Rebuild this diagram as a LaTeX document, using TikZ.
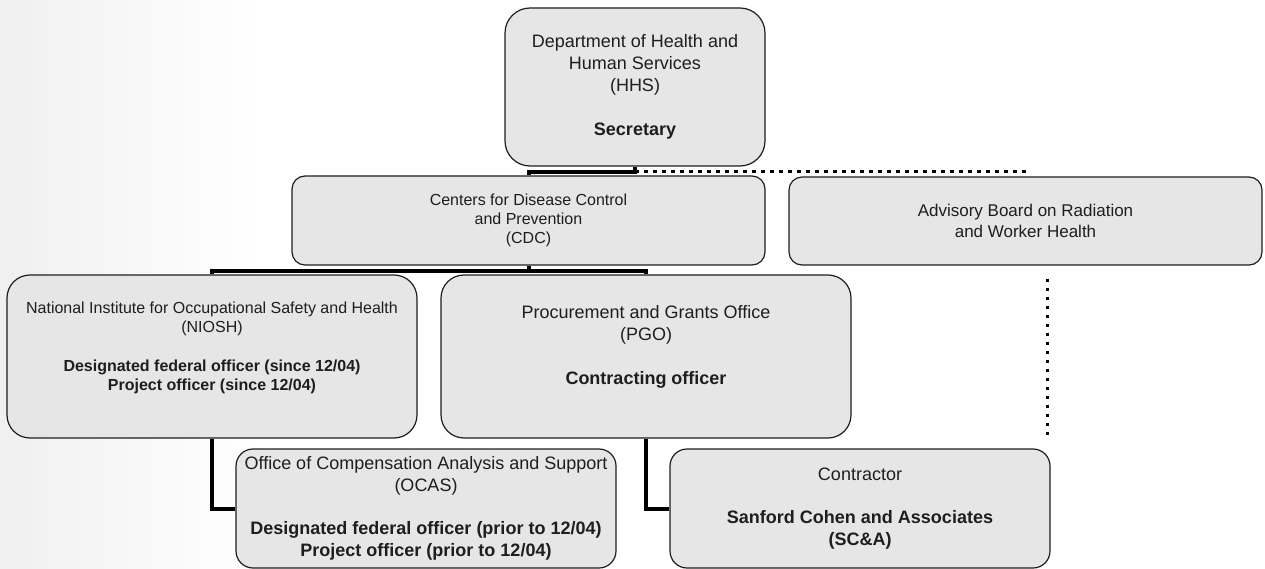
\documentclass[tikz,border=0pt]{standalone}
\usepackage{fontspec}
\setmainfont{Liberation Sans}
\definecolor{boxgray}{RGB}{230,230,230}
\definecolor{ink}{RGB}{30,30,30}
\begin{document}
\begin{tikzpicture}[x=1pt,y=-1pt,
    b/.style={draw=ink,line width=1.2pt,fill=boxgray,text=ink,align=center,
      inner sep=0pt,rounded corners=#1},
    b/.default=20pt,
    lg/.style={font=\fontsize{18}{21.8}\selectfont},
    md/.style={font=\fontsize{17}{20.7}\selectfont},
    sm/.style={font=\fontsize{16}{19.3}\selectfont},
    con/.style={line width=4pt,draw=black},
    dotl/.style={line width=3.5pt,draw=black,dash pattern=on 3.5pt off 5.5pt}]
  \useasboundingbox (0,0) rectangle (1265,569);
  \fill[left color=black!6,right color=white] (0,0) rectangle (260,569);
  \node[b=25pt,lg,minimum width=260,minimum height=158] (hhs) at (635,87)
    {Department of Health and\\Human Services\\(HHS)\\[22pt]\textbf{Secretary}};
  \node[b=13pt,sm,minimum width=473,minimum height=89] (cdc) at (528.5,220.5)
    {Centers for Disease Control\\and Prevention\\(CDC)};
  \node[b=13pt,md,minimum width=473,minimum height=88] (adv) at (1025.5,221)
    {Advisory Board on Radiation\\and Worker Health};
  \node[b=23pt,sm,minimum width=410,minimum height=163] (niosh) at (212,356.5)
    {National Institute for Occupational Safety and Health\\(NIOSH)\\[19.3pt]
     \textbf{Designated federal officer (since 12/04)}\\
     \textbf{Project officer (since 12/04)}\\[1pt]\mbox{}};
  \node[b=23pt,lg,minimum width=410,minimum height=163] (pgo) at (646,356.5)
    {Procurement and Grants Office\\(PGO)\\[21.8pt]
     \textbf{Contracting officer}\\[1pt]\mbox{}};
  \node[b=17pt,lg,minimum width=380,minimum height=119] (ocas) at (426,508.5)
    {Office of Compensation Analysis and Support\\(OCAS)\\[21.8pt]
     \textbf{Designated federal officer (prior to 12/04)}\\
     \textbf{Project officer (prior to 12/04)}};
  \node[b=17pt,lg,minimum width=380,minimum height=119] (ctr) at (860,508.5)
    {Contractor\\[21.8pt]\textbf{Sanford Cohen and Associates}\\\textbf{(SC\&A)}};
  \draw[con] (hhs.south) -- ++(0,5) -| (cdc.north);
  \draw[dotl] (hhs.south) ++(0,5) -| (adv.north);
  \draw[con] (cdc.south) -- ++(0,5) -| (niosh.north);
  \draw[con] (cdc.south) ++(0,5) -| (pgo.north);
  \draw[con] (niosh.south) |- (ocas.west);
  \draw[con] (pgo.south) |- (ctr.west);
  \coordinate (ctrtop) at ([xshift=-3pt]ctr.north east);
  \draw[dotl,shorten <=13pt,shorten >=10pt] (adv.south -| ctrtop) -- (ctrtop);
\end{tikzpicture}
\end{document}
